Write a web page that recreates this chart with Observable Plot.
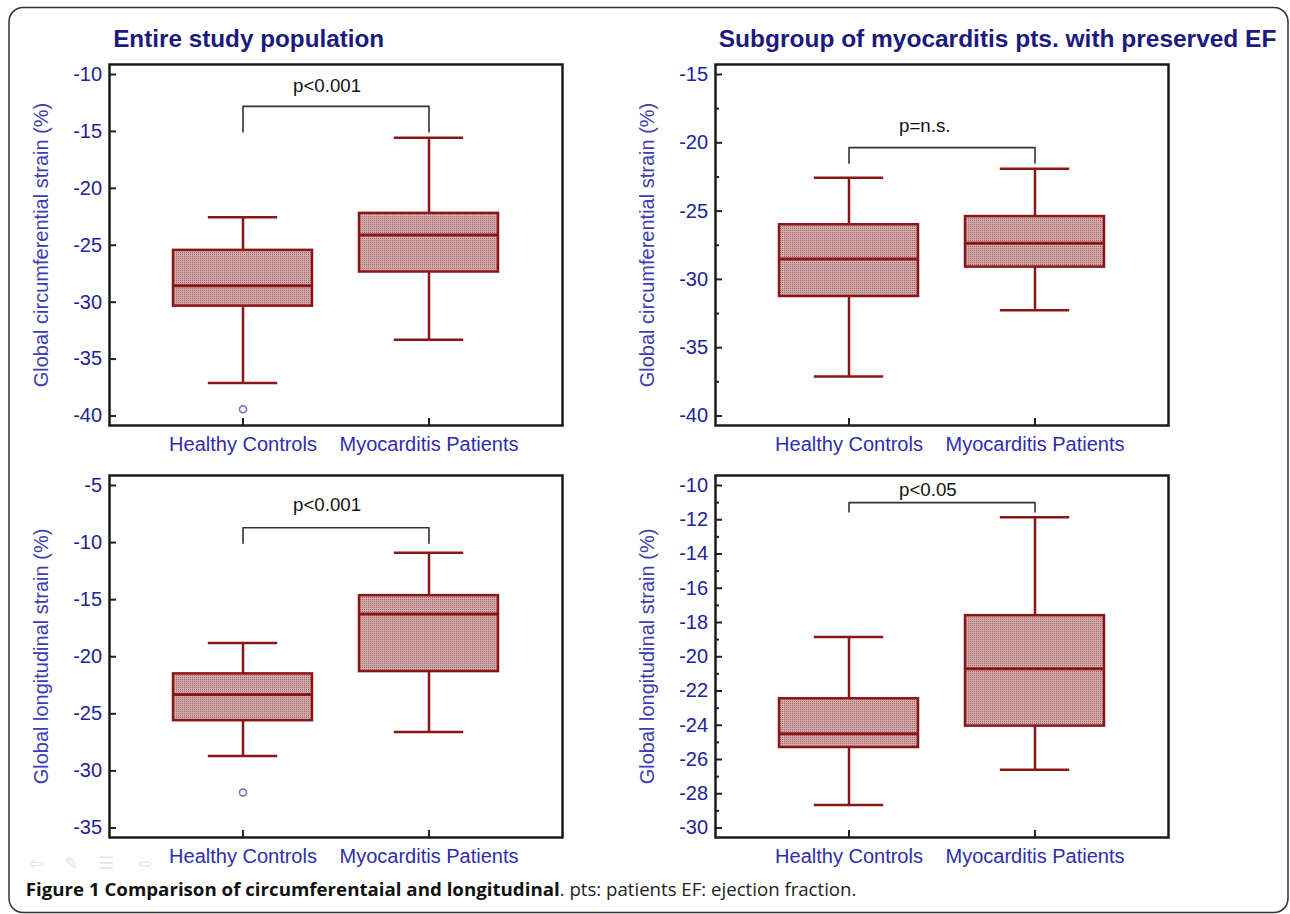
<!DOCTYPE html>
<html>
<head>
<meta charset="utf-8">
<script src="https://cdn.jsdelivr.net/npm/d3@7"></script>
<script src="https://cdn.jsdelivr.net/npm/@observablehq/plot@0.6"></script>
<style>
html, body { margin: 0; padding: 0; background: #fff; }
#page { position: relative; width: 1290px; height: 914px; overflow: hidden; font-family: "Liberation Sans", Arial, sans-serif; }
#page > svg, #page > div { position: absolute; }
</style>
</head>
<body>
<div id="page"></div>
<script>
// ---------- data ----------
const categories = ["Healthy Controls", "Myocarditis Patients"];
const panelTitles = ["Entire study population", "Subgroup of myocarditis pts. with preserved EF"];
const yLabels = ["Global circumferential strain (%)", "Global longitudinal strain (%)"];

// [lower whisker, Q1, median, Q3, upper whisker]
const circAllHealthy = [-37.1, -30.35, -28.55, -25.45, -22.55];
const circAllMyo     = [-33.3, -27.35, -24.1, -22.2, -15.55];
const circPresHealthy = [-37.1, -31.25, -28.5, -26.0, -22.55];
const circPresMyo     = [-32.25, -29.1, -27.35, -25.4, -21.9];
const longAllHealthy = [-28.7, -25.6, -23.3, -21.5, -18.8];
const longAllMyo     = [-26.6, -21.3, -16.25, -14.65, -10.9];
const longPresHealthy = [-28.65, -25.3, -24.5, -22.45, -18.85];
const longPresMyo     = [-26.6, -24.05, -20.7, -17.6, -11.85];

// outliers: [category index, value]
const circAllOutliers = [[0, -39.4]];
const longAllOutliers = [[0, -31.9]];

// y axis domains and ticks
const circAllDomain = [-40, -10];
const circAllTicks = [-40, -35, -30, -25, -20, -15, -10];
const circPresDomain = [-40, -15];
const circPresTicks = [-40, -35, -30, -25, -20, -15];
const circPresMinor = [-37.5, -32.5, -27.5, -22.5, -17.5];
const longAllDomain = [-35, -5];
const longAllTicks = [-35, -30, -25, -20, -15, -10, -5];
const longPresDomain = [-30, -10];
const longPresTicks = [-30, -28, -26, -24, -22, -20, -18, -16, -14, -12, -10];
const longPresMinor = [-29, -27, -25, -23, -21, -19, -17, -15, -13, -11];

// significance labels: [label, bracket level, bracket end, label level]
const pLabels = ["p<0.001", "p=n.s.", "p<0.001", "p<0.05"];
const bracketTops = [-12.8, -20.35, -8.7, -11.0];
const bracketEnds = [-15.05, -21.5, -10.05, -11.55];
const pTextLevels = [-11.05, -18.8, -6.75, -10.25];

const captionBold = "Figure 1 Comparison of circumferentaial and longitudinal";
const captionRest = ". pts: patients EF: ejection fraction.";

// ---------- styles ----------
const RED = "#8c1616";
const page = document.getElementById("page");

// overlay (border, titles, caption, pattern defs)
const ov = d3.select(page).append("svg")
  .attr("width", 1290).attr("height", 914)
  .style("left", "0px").style("top", "0px");
const pat = ov.append("defs").append("pattern")
  .attr("id", "boxfill").attr("patternUnits", "userSpaceOnUse")
  .attr("width", 2).attr("height", 2);
pat.append("rect").attr("width", 2).attr("height", 2).attr("fill", "#d2acac");
pat.append("rect").attr("width", 1).attr("height", 1).attr("fill", "#a26464");

ov.append("rect").attr("x", 9).attr("y", 7.5).attr("width", 1279).attr("height", 905)
  .attr("rx", 14).attr("fill", "none").attr("stroke", "#333").attr("stroke-width", 1.5);

const titleX = [113.2, 718.8];
const titleW = [271, 557.6];
panelTitles.forEach((t, i) => {
  ov.append("text").attr("x", titleX[i]).attr("y", 47)
    .attr("font-family", "Liberation Sans, Arial, sans-serif")
    .attr("font-weight", "bold").attr("font-size", 24.4).attr("fill", "#1a1a80")
    .attr("textLength", titleW[i]).attr("lengthAdjust", "spacingAndGlyphs")
    .text(t);
});

ov.append("text").attr("x", 25.7).attr("y", 896)
  .attr("font-family", "Open Sans, Noto Sans, sans-serif").attr("font-weight", "bold")
  .attr("font-size", 18).attr("fill", "#111")
  .attr("textLength", 534).attr("lengthAdjust", "spacingAndGlyphs").text(captionBold);
ov.append("text").attr("x", 559.7).attr("y", 896)
  .attr("font-family", "Open Sans, Noto Sans, sans-serif")
  .attr("font-size", 18).attr("fill", "#222")
  .attr("textLength", 296.7).attr("lengthAdjust", "spacingAndGlyphs").text(captionRest);

const icons = ["⇦", "✎", "☰", "⇨"];
const iconX = [36, 71, 106, 145];
icons.forEach((c, i) => {
  ov.append("text").attr("x", iconX[i]).attr("y", 869).attr("text-anchor", "middle")
    .attr("font-family", "DejaVu Sans").attr("font-size", 17).attr("fill", "#e4e4e4").text(c);
});

// ---------- panels ----------
function makePanel(cfg) {
  const stats = cfg.stats;
  const data = categories.map((c, i) => ({
    cat: c, lo: stats[i][0], q1: stats[i][1], med: stats[i][2], q3: stats[i][3], hi: stats[i][4]
  }));
  const outliers = (cfg.outliers || []).map(([ci, v]) => ({cat: categories[ci], v}));
  const bracket = [
    {cat: categories[0], v: bracketEnds[cfg.k]},
    {cat: categories[0], v: bracketTops[cfg.k]},
    {cat: categories[1], v: bracketTops[cfg.k]},
    {cat: categories[1], v: bracketEnds[cfg.k]}
  ];
  const frameH = cfg.frameH;
  const height = 24 + frameH + 45;
  const marks = [
    Plot.ruleX(data, {x: "cat", y1: "lo", y2: "q1", stroke: RED, strokeWidth: 2.5}),
    Plot.ruleX(data, {x: "cat", y1: "q3", y2: "hi", stroke: RED, strokeWidth: 2.5}),
    Plot.tickY(data, {x: "cat", y: "lo", inset: 34.8, stroke: RED, strokeWidth: 2.5}),
    Plot.tickY(data, {x: "cat", y: "hi", inset: 34.8, stroke: RED, strokeWidth: 2.5}),
    Plot.barY(data, {x: "cat", y1: "q1", y2: "q3", fill: "url(#boxfill)", stroke: RED, strokeWidth: 2.5}),
    Plot.tickY(data, {x: "cat", y: "med", stroke: RED, strokeWidth: 3}),
    Plot.dot(outliers, {x: "cat", y: "v", r: 3.5, stroke: "#6b6bd2", strokeWidth: 1.5, fill: "none"}),
    Plot.line(bracket, {x: "cat", y: "v", stroke: "#333", strokeWidth: 1.6}),
    Plot.text([pLabels[cfg.k]], {x: () => categories[0], y: () => pTextLevels[cfg.k], text: d => d,
      textAnchor: "start", dx: 50, fontSize: 18.7, fill: "#111"}),
    Plot.text([cfg.yLabel], {frameAnchor: "left", textAnchor: "middle", lineAnchor: "middle",
      rotate: -90, dx: -67.5, text: d => d, fontSize: 20, fill: "#3c3cb4"}),
    Plot.axisY(cfg.ticks, {tickSize: -7, tickPadding: 14.4, fontSize: 20, fill: "#22229a",
      stroke: "#222", strokeWidth: 2, label: null, tickFormat: d => String(d)}),
    Plot.axisX({tickSize: -7, tickPadding: 18.7, fontSize: 20, fill: "#2d2db0",
      stroke: "#222", strokeWidth: 2, label: null}),
    Plot.frame({stroke: "#1a1a1a", strokeWidth: 2.5})
  ];
  if (cfg.minor) {
    marks.push(Plot.axisY(cfg.minor, {tickSize: -4, fill: "none", stroke: "#222", strokeWidth: 2, label: null}));
  }
  const svg = Plot.plot({
    width: 600, height,
    marginLeft: 109, marginRight: 38, marginTop: 24, marginBottom: 45,
    style: {background: "transparent", fontFamily: "Liberation Sans, Arial, sans-serif", fontSize: "20px", overflow: "visible"},
    x: {type: "band", domain: categories, paddingInner: 0.252, paddingOuter: 0.341, align: 0.5, label: null},
    y: {domain: cfg.domain, insetTop: 10, insetBottom: 9.5, label: null},
    marks
  });
  svg.style.position = "absolute";
  svg.style.left = cfg.left + "px";
  svg.style.top = cfg.top + "px";
  page.appendChild(svg);
}

makePanel({k: 0, left: 0, top: 40, frameH: 361, stats: [circAllHealthy, circAllMyo], outliers: circAllOutliers,
  domain: circAllDomain, ticks: circAllTicks, yLabel: yLabels[0]});
makePanel({k: 1, left: 606, top: 40, frameH: 361, stats: [circPresHealthy, circPresMyo],
  domain: circPresDomain, ticks: circPresTicks, minor: circPresMinor, yLabel: yLabels[0]});
makePanel({k: 2, left: 0, top: 451, frameH: 362, stats: [longAllHealthy, longAllMyo], outliers: longAllOutliers,
  domain: longAllDomain, ticks: longAllTicks, yLabel: yLabels[1]});
makePanel({k: 3, left: 606, top: 451, frameH: 362, stats: [longPresHealthy, longPresMyo],
  domain: longPresDomain, ticks: longPresTicks, minor: longPresMinor, yLabel: yLabels[1]});
</script>
</body>
</html>
